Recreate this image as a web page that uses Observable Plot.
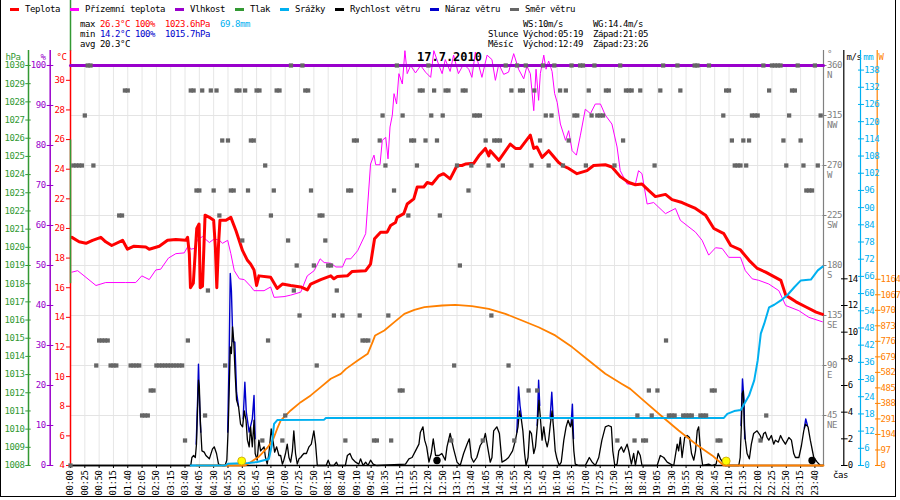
<!DOCTYPE html>
<html><head><meta charset="utf-8">
<script src="https://cdn.jsdelivr.net/npm/d3@7"></script>
<script src="https://cdn.jsdelivr.net/npm/@observablehq/plot@0.6"></script>
<style>
body{margin:0;background:#fff}
#chart{position:relative;width:900px;height:500px;overflow:hidden;background:#fff;font-family:"DejaVu Sans Mono",monospace;font-size:9px;letter-spacing:-0.42px;color:#000}
#chart svg{position:absolute;left:0;top:0}
.t{position:absolute;white-space:pre;line-height:10px}
.dash{position:absolute;height:3px;width:9px}
</style></head><body><div id="chart"></div>
<script>
// ---------- data ----------
const timeLabels = ["00:00","00:25","00:50","01:15","01:40","02:05","02:50","03:15","03:40","04:05","04:30","04:55","05:20","05:45","06:10","07:00","07:25","07:50","08:15","08:40","09:10","09:45","10:35","11:15","11:55","12:20","12:50","13:15","13:40","14:05","14:30","14:55","15:20","15:45","16:10","16:35","17:00","17:25","17:50","18:15","18:40","19:05","19:30","19:55","20:20","20:45","21:10","21:35","22:00","22:25","22:50","23:15","23:40"];

// [sample index, °C]
const temperature = [[0.5,19.4],[3,19.1],[5.4,19.0],[7.7,19.2],[10.6,19.4],[12.3,19.1],[14.4,18.85],[18.2,19.2],[19.9,18.6],[22.2,18.8],[26.3,18.75],[27.5,18.6],[31,18.8],[33.9,19.2],[36.8,19.25],[40.3,19.2],[40.9,19.4],[41.5,18.3],[41.9,16.0],[42.9,16.3],[43.6,18.5],[44.1,20.0],[44.9,20.3],[45.3,16.0],[46.1,16.1],[47.0,20.9],[48.5,20.75],[50.0,20.55],[50.6,18.7],[51.1,16.0],[51.7,18.9],[52.2,20.55],[54.3,20.55],[56.0,20.75],[57.8,19.85],[60.1,18.5],[61.8,17.85],[62.9,17.6],[64.1,17.2],[65.0,16.15],[65.8,16.8],[69.9,16.7],[72.2,15.95],[74.0,16.25],[76.9,16.15],[80.4,16.05],[82.7,15.85],[83.9,16.25],[87.4,16.55],[90.9,16.8],[92.0,16.6],[93.2,16.75],[96.7,16.8],[98.4,17.1],[103.1,17.15],[104.8,17.6],[106.2,19.3],[108.3,19.75],[110.6,19.75],[111.8,20.2],[113.5,20.4],[114.1,20.75],[116.4,21.0],[117.6,21.65],[119.9,22.0],[121.1,22.8],[123.4,22.8],[124.6,23.1],[126.3,23.0],[128.6,23.55],[130.3,23.7],[132.6,23.35],[135.0,24.25],[136.7,24.25],[137.9,24.35],[140.8,24.4],[142.6,24.9],[144.9,25.4],[146.1,24.9],[146.6,25.25],[149.6,24.6],[153.6,25.7],[155.4,25.4],[157.1,25.4],[160.6,26.3],[161.8,25.4],[162.9,25.5],[164.7,24.8],[167.0,25.25],[170.5,24.45],[172.3,24.2],[174.0,24.05],[176.9,23.7],[180.4,23.9],[182.7,24.25],[186.8,24.3],[189.1,24.15],[192.0,23.5],[195.0,23.1],[197.3,22.95],[199.6,23.0],[202.0,22.55],[204.3,22.15],[207.8,22.3],[210.1,21.95],[213.6,21.75],[215.4,21.6],[218.3,21.35],[221.8,20.9],[224.7,20.0],[228.2,19.65],[230.6,18.85],[234.0,18.55],[237.0,17.85],[239.9,17.3],[242.8,17.05],[245.2,16.8],[248.1,16.5],[249.8,15.5],[253.4,15.05],[256.9,14.7],[260.4,14.35],[262.7,14.2]];

// [sample index, °C]
const feelsLike = [[0.5,17.05],[2.5,17.15],[5.4,16.7],[8.9,16.15],[12.3,16.35],[19.3,16.35],[22.8,16.35],[24.9,16.8],[27.5,16.55],[29.8,17.2],[31.5,17.25],[34.2,18.0],[36.8,18.3],[39.7,18.35],[41.2,18.85],[42.0,18.6],[43.2,18.65],[44.4,19.25],[46.1,19.45],[48.5,19.05],[50.2,19.3],[52.0,19.2],[53.1,19.0],[54.9,19.2],[56.0,18.3],[57.2,17.15],[59.0,16.6],[60.7,16.55],[62.9,16.1],[64.1,15.8],[67.6,15.8],[69.9,16.05],[71.1,15.35],[74.6,15.4],[76.9,15.5],[80.4,15.7],[82.7,16.8],[85.1,17.15],[87.2,17.95],[88.6,17.7],[90.9,17.65],[92.7,17.4],[95.0,17.4],[96.2,17.95],[97.9,17.95],[100.3,18.5],[103.1,19.65],[104.8,24.35],[106.0,24.95],[106.6,24.3],[108.1,24.3],[108.9,25.95],[110.1,26.15],[110.9,24.7],[111.6,26.85],[112.4,27.65],[113.0,29.1],[113.9,28.4],[114.7,30.45],[115.9,29.75],[116.8,32.0],[117.6,30.45],[118.8,31.0],[120.5,30.5],[122.3,31.0],[124.0,30.55],[125.8,30.2],[126.9,32.0],[128.7,31.0],[129.8,30.45],[130.9,31.4],[132.6,30.6],[133.8,31.7],[135.5,30.45],[137.3,31.1],[139.1,30.75],[140.2,30.2],[141.4,31.9],[143.7,30.2],[145.5,31.7],[147.2,31.4],[148.4,30.0],[149.6,31.1],[151.3,30.4],[153.0,30.55],[154.8,31.8],[156.5,30.75],[158.3,30.1],[159.4,30.95],[160.6,30.45],[161.8,27.95],[162.6,30.75],[163.5,28.65],[164.1,30.45],[165.3,31.7],[166.1,30.75],[167.0,31.3],[168.2,30.6],[169.1,29.1],[170.0,28.5],[171.1,27.05],[172.9,25.95],[174.0,26.6],[175.2,25.25],[176.7,24.95],[178.1,26.3],[179.8,28.05],[181.6,27.75],[183.3,28.4],[185.1,28.4],[186.8,27.65],[189.1,27.05],[190.9,25.5],[192.0,23.9],[194.4,23.0],[197.3,23.0],[198.4,23.9],[199.6,23.7],[201.4,21.65],[203.7,21.75],[207.8,21.0],[211.3,21.35],[213.0,20.55],[218.3,19.75],[220.6,19.2],[222.9,18.2],[225.3,18.7],[227.6,18.65],[229.9,18.05],[234.0,18.05],[235.7,17.15],[238.1,16.6],[240.4,16.5],[243.9,16.25],[247.4,15.8],[249.8,14.8],[254.4,14.45],[257.9,14.0],[262.6,13.7]];

// [sample index, %]
const humidity = [[0,100],[263,100]];

// [sample index, m/s]
const windSpeed = [[0,0],[42,0],[42.4,0.6],[43,0.75],[43.6,0.6],[44,1.6],[44.4,4.4],[44.7,6.4],[45.0,5.9],[45.4,3.1],[45.9,1.1],[46.7,1.0],[47.3,0.75],[48.5,0.5],[49.6,1.25],[50.2,1.4],[51,0.9],[51.7,0.1],[53,0],[54,0],[54.6,0.4],[55.1,2.9],[55.4,5.4],[55.8,8.9],[56.2,8.4],[56.6,10.4],[57.0,9.4],[57.5,6.9],[58.0,4.9],[58.7,4.4],[59.4,3.1],[60.1,2.9],[60.7,4.1],[61.3,3.4],[61.8,1.9],[62.4,1.4],[62.9,2.9],[63.5,1.4],[64.1,3.4],[64.5,0.9],[65.2,0.4],[65.8,1.9],[66.4,1.1],[67.6,1.4],[68.1,0.6],[68.7,0.1],[69.3,0.9],[70.1,2.75],[70.7,1.9],[71.3,1.0],[72.0,1.4],[72.8,0.75],[73.4,0.75],[74,0.1],[74.5,0.4],[75.1,0.9],[75.7,1.6],[76.3,0.6],[76.9,0.25],[77.5,1.1],[78.0,2.6],[78.6,0.9],[79.2,0.1],[79.8,0.5],[80.4,0.6],[80.9,0.75],[81.5,0.9],[82.4,0.9],[83.3,1.4],[84.1,1.6],[85.0,2.6],[85.6,1.6],[86.2,0],[89.3,0],[90.0,0.4],[90.7,0],[92.0,0],[92.9,0.25],[93.4,0],[96,0],[96.7,0.75],[97.6,0.9],[98.4,0.5],[99.6,0.25],[100.7,0.1],[101.3,0.5],[102.2,0],[103.1,0.25],[103.9,0],[104.8,0.4],[105.7,0.1],[106.9,0],[117,0.1],[118.2,0.5],[119.3,0.6],[120.5,1.1],[121.7,1.6],[122.2,2.5],[123.1,2.9],[123.7,1.9],[124.4,1.4],[125.2,0.25],[126.0,0.9],[126.7,2.0],[127.5,0.75],[128.7,0.75],[129.7,0.9],[130.9,0.4],[131.5,1.4],[132.6,2.4],[133.8,1.25],[135.0,0.25],[136.1,0],[137.3,0.9],[138.5,1.6],[139.3,2.0],[140.0,0.6],[140.8,0.25],[141.9,0.6],[143.1,1.5],[144.3,1.9],[144.9,2.4],[145.8,1.25],[146.6,0.25],[147.2,0.6],[147.8,2.6],[148.9,2.9],[149.8,2.4],[150.7,0.25],[151.9,0.4],[153.0,0.6],[154.4,1.1],[155.4,1.9],[156.3,2.9],[156.8,4.1],[157.5,3.4],[158.0,2.6],[158.6,0.9],[159.1,0],[159.8,0.6],[160.4,2.6],[161.0,2.4],[161.8,0.9],[162.4,1.4],[163.1,3.1],[163.6,4.9],[164.1,3.6],[164.7,1.9],[165.3,2.9],[165.9,1.9],[166.5,1.4],[167.0,1.9],[167.6,3.1],[168.2,4.1],[168.8,2.6],[169.3,1.1],[169.9,0.5],[170.7,0],[171.4,0.25],[172.3,1.9],[173.1,2.9],[173.8,3.4],[174.6,2.9],[175.2,3.4],[175.8,1.1],[176.3,0.1],[177.5,0],[179.8,0],[180.4,0.25],[181.2,0.6],[182.2,0.25],[183.3,0],[184.5,0.6],[185.6,1.9],[186.8,2.9],[187.9,3.0],[188.9,2.9],[189.4,1.1],[190.1,0],[190.9,0.1],[191.5,1.1],[192.4,1.4],[193.2,1.0],[194.4,1.6],[195.0,1.1],[195.9,0.1],[196.7,0.9],[197.3,0],[198.2,1.1],[199.0,0.75],[199.6,0],[204.9,0],[206.0,0.75],[207.2,0.6],[208.4,0.25],[209.6,0.1],[210.7,0],[211.9,1.6],[212.4,1.1],[213.0,2.1],[213.6,0.6],[214.5,2.1],[215.4,2.25],[216.2,2.1],[216.9,0.9],[217.7,0.4],[218.3,1.1],[218.9,2.6],[219.4,2.9],[220.0,1.25],[220.8,0],[222.9,0.1],[224.0,0],[225.5,0.1],[226.2,0.9],[227.0,0.5],[227.8,0.25],[228.7,0],[233.4,0],[233.9,0.6],[234.3,2.9],[234.6,5.4],[235.0,5.6],[235.4,2.75],[235.7,1.9],[236.3,0.9],[237.1,0.5],[237.8,1.6],[238.6,2.4],[239.8,2.6],[240.9,2.25],[241.5,1.9],[242.1,2.4],[242.7,2.5],[243.3,2.1],[243.9,1.9],[244.8,2.25],[245.6,1.6],[246.2,1.9],[247.2,1.75],[248.0,2.25],[248.8,1.9],[249.7,1.6],[250.9,2.1],[251.8,1.9],[252.6,0.9],[253.2,0.6],[254.4,0.6],[255.3,1.5],[256.1,2.6],[256.7,3.1],[257.6,2.9],[258.4,1.9],[259.6,0.6],[260.8,0.25],[261.9,0],[263,0]];

// gust peaks that rise above the wind-speed line: [sample index, m/s]
const gustSegments = [
  [[43.9,1.6],[44.4,5.0],[44.7,7.6],[45.1,4.5],[45.5,2.5]],
  [[54.9,2.5],[55.4,8.0],[55.8,14.4],[56.2,13.1],[56.7,9.3],[57.4,9.25],[58.0,5.5],[58.7,4.4]],
  [[60.3,3.5],[60.9,6.25],[61.4,4.0],[62.4,2.5],[63.5,3.5],[64.1,5.25],[64.5,2.0]],
  [[155.9,2.5],[156.5,5.9],[157.0,4.5],[157.6,3.5]],
  [[163.0,3.0],[163.5,6.4],[163.9,4.5]],
  [[167.5,3.5],[168.1,5.5],[168.6,3.5]],
  [[174.8,3.0],[175.3,4.6],[175.7,2.0]],
  [[234.2,3.0],[234.7,6.5],[235.2,5.0],[235.5,2.0]],
  [[256.3,2.8],[256.8,3.5],[257.4,3.0]]
];

// [sample index, mm]
const precipitation = [[42,0],[54,0],[55,0.6],[62,0.9],[65.2,1.2],[69.3,2.3],[70.3,7.0],[71.1,14.5],[72.3,15.9],[88.6,16.0],[89.2,16.6],[228.2,16.6],[229.4,18.0],[231.8,19.0],[234.1,19.4],[235.3,21.5],[237.0,24.4],[238.8,29.7],[240.0,36.6],[241.1,46.0],[242.3,49.5],[244.0,55.2],[245.8,56.1],[248.1,57.6],[250.5,59.6],[252.8,62.2],[255.1,64.6],[258.6,64.9],[261.0,68.1],[262.7,69.4]];

// [sample index, W/m2]
const solar = [[44,0],[61,0],[62.9,20],[65.8,55],[68.7,110],[70.7,160],[72.2,230],[73.4,280],[76.9,344],[80.4,396],[83.9,438],[87.4,490],[90.9,542],[94.4,573],[96.2,604],[100.3,656],[103.8,698],[105.5,771],[106.4,813],[109.6,844],[113.1,896],[116.6,948],[120.1,973],[123.6,990],[129.8,1000],[134.4,1004],[140.2,996],[146.1,979],[151.9,948],[157.7,906],[163.5,864],[169.3,813],[175.2,740],[181.0,656],[186.8,573],[192.6,510],[195.5,479],[200.8,396],[206.6,306],[212.4,219],[218.3,135],[224.1,63],[228.2,0],[263,0]];

// green pressure trace at the first sample: [from hPa, to hPa]
const pressureTrace = [[1018.0,1025.9],[1030.8,1033.6]];

// wind direction rows: [degrees, sample indices]
const dirRows = [
  [0,[0]],
  [22.5,[40,67,74,96,106,107,112,133,144,155,191,197,200,201,226,227,241]],
  [45,[25,26,27,47,75,198,203,209,210,211,214,215,216,217,220,221,222,243]],
  [67.5,[28,29,115,116,160,163,202,205,224,225]],
  [90,[9,14,15,16,21,22,23,24,30,31,32,33,34,35,36,37,38,39,54,86,134,153]],
  [112.5,[10,11,12,13,41,69,102,103,104,208]],
  [135,[80,92,95,101,111,147]],
  [157.5,[48,78,93]],
  [180,[79,85,90,91,136]],
  [202.5,[60,76,89]],
  [225,[17,18,52,70,87,88,118,129]],
  [247.5,[44,45,50,56,57,62,71,84,97,98,113,139,257,258,259]],
  [270,[1,2,3,4,8,68,110,121,135,140,146,151,161,167,172,180,190,204,232,233,234,236,250,256,261]],
  [292.5,[53,55,63,64,99,100,108,119,120,124,128,145,148,149,150,164,174,193,231,235,237,249,255]],
  [315,[5,109,116,126,130,141,142,143,166,168,176,177,182,184,185,186,228,238,239,240,251,262]],
  [337.5,[19,20,42,43,46,49,51,58,59,61,65,66,72,73,82,83,122,123,127,131,132,137,138,154,157,158,162,171,173,181,187,188,194,195,196,199,206,213,229,230,244,252,253]],
  [360,[6,7,77,81,114,125,152,156,159,165,169,175,178,179,183,192,207,212,218,219,223,242,245,246,247,248,254,260]]
];

// sunrise/sunset and moonrise/moonset markers: [sample index, kind]
const sunMoon = [[59.8,"sun"],[229,"sun"],[128,"moon"],[259,"moon"]];

const hPaTicks = d3.range(1008,1031,1);
const pctTicks = d3.range(0,101,10);
const tempTicks = d3.range(4,31,2);
const dirTicks = [45,90,135,180,225,270,315,360];
const compass = ["NE","E","SE","S","SW","W","NW","N"];
const msTicks = d3.range(0,15,2);
const mmTicks = d3.range(0,139,6);
const wTicks = d3.range(0,1165,97);

const legendNames = ["Teplota","Přízemní teplota","Vlhkost","Tlak","Srážky","Rychlost větru","Náraz větru","Směr větru"];
const C = {temp:"#ff0000", feel:"#ff00ff", hum:"#9900cc", press:"#339933", rain:"#00b0f0", wind:"#000000", gust:"#0000cc", dir:"#666666", sun:"#ff8000", axisGray:"#808080"};
const legendColors = [C.temp,C.feel,C.hum,C.press,C.rain,C.wind,C.gust,C.dir];

// ---------- layout ----------
const chart = document.getElementById("chart");
const FONT = "DejaVu Sans Mono";
const XMAX = 263;
const plain = d => `${d}`;
const tickIdx = timeLabels.map((_, k) => k * 5);
const labelAt = new Map(tickIdx.map((d, k) => [d, timeLabels[k]]));
const pts = (arr) => arr.map(([i, v]) => ({i, v}));

function layer(yDomain, marks, {xAxis = false, yAxis = false} = {}) {
  const svg = Plot.plot({
    width: 900, height: 500,
    marginLeft: 70, marginRight: 77, marginTop: 65, marginBottom: 35,
    x: {domain: [0, XMAX], ...(xAxis ? {} : {axis: null})},
    y: {domain: yDomain, ...(yAxis ? {} : {axis: null})},
    style: {background: "none", overflow: "visible", fontFamily: FONT, fontSize: "9px", letterSpacing: "-0.42px", color: "#000"},
    marks
  });
  chart.appendChild(svg);
}

const unit = (txt, dx, fill, anchor = "start") =>
  Plot.text([txt], {text: d => d, frameAnchor: "top-left", dx, dy: -12, textAnchor: anchor, fill, fontSize: 9});
const unitR = (txt, dx, fill, dy = -12) =>
  Plot.text([txt], {text: d => d, frameAnchor: "top-right", dx, dy, textAnchor: "start", fill, fontSize: 9});

// 1. base: grid, time axis, direction axis
layer([0, 360], [
  Plot.ruleX(tickIdx, {stroke: "#e6e6e6", strokeWidth: 1}),
  Plot.ruleY([45, 90, 135, 180, 225, 270, 315], {stroke: "#e4e4e4", strokeWidth: 1.2}),
  Plot.axisX({ticks: tickIdx, tickFormat: d => labelAt.get(d), tickRotate: -90, tickSize: 3, tickPadding: 2, label: null, fontSize: 9}),
  Plot.ruleY([0], {stroke: "#000", strokeWidth: 1.5}),
  Plot.ruleX([XMAX], {stroke: C.axisGray, strokeWidth: 1.2, insetTop: -15}),
  Plot.axisY({anchor: "right", ticks: dirTicks, tickSize: 4, dx: -1.5, tickFormat: () => "", stroke: C.axisGray, label: null}),
  Plot.text(dirTicks, {y: d => d, text: (d, k) => `${d}\n${compass[k]}`, frameAnchor: "right", dx: 3.5, dy: -4.5,
    textAnchor: "start", lineAnchor: "top", lineHeight: 1.1, fill: C.axisGray, fontSize: 9}),
  unitR("°", 3.5, C.axisGray, -15)
], {xAxis: true, yAxis: true});

// 2. temperature + feels-like, °C axis
layer([4, 31], [
  Plot.line(pts(feelsLike), {x: "i", y: "v", stroke: C.feel, strokeWidth: 1}),
  Plot.line(pts(temperature), {x: "i", y: "v", stroke: C.temp, strokeWidth: 3}),
  Plot.ruleX([0], {stroke: C.temp, strokeWidth: 1.5, insetTop: -15}),
  Plot.axisY({anchor: "left", ticks: tempTicks, tickFormat: plain, tickSize: 4, tickPadding: 2, stroke: C.temp, fill: C.temp, label: null, fontSize: 9}),
  unit("°C", -4, C.temp, "end")
], {yAxis: true});

// 3. pressure axis and trace
layer([1008, 1030], [
  Plot.ruleX([0], {dx: -42, stroke: C.press, strokeWidth: 1.5, insetTop: -15}),
  Plot.axisY({anchor: "left", ticks: hPaTicks, tickFormat: plain, dx: -39.3, tickSize: 5.4, tickPadding: 1.2, stroke: C.press, fill: C.press, label: null, fontSize: 9}),
  Plot.ruleX(pressureTrace, {x: () => 0, y1: d => d[0], y2: d => d[1], stroke: C.press, strokeWidth: 1.5}),
  unit("hPa", -65, C.press)
], {yAxis: true});

// 4. humidity
layer([0, 100], [
  Plot.line(pts(humidity), {x: "i", y: "v", stroke: C.hum, strokeWidth: 3}),
  Plot.ruleX([0], {dx: -20.3, stroke: C.hum, strokeWidth: 1.5, insetTop: -15}),
  Plot.axisY({anchor: "left", ticks: pctTicks, tickFormat: plain, dx: -16.7, tickSize: 6.6, tickPadding: 1.4, stroke: C.hum, fill: C.hum, label: null, fontSize: 9}),
  unit("%", -25, C.hum, "end")
], {yAxis: true});

// 5. wind speed and gusts
const gustPts = gustSegments.flatMap((seg, s) => seg.map(([i, v]) => ({i, v, s})));
layer([0, 30], [
  Plot.line(gustPts, {x: "i", y: "v", z: "s", stroke: C.gust, strokeWidth: 1.4}),
  Plot.line(pts(windSpeed), {x: "i", y: "v", stroke: C.wind, strokeWidth: 1.3}),
  Plot.ruleX([XMAX], {dx: 20.3, stroke: "#000", strokeWidth: 1.2, insetTop: -15}),
  Plot.axisY({anchor: "right", ticks: msTicks, tickFormat: plain, dx: 17, tickSize: 6.6, tickPadding: 0.6, stroke: "#000", fill: "#000", label: null, fontSize: 9}),
  unitR("m/s", 23, "#000")
], {yAxis: true});

// 6. solar radiation
layer([0, 2500], [
  Plot.line(pts(solar), {x: "i", y: "v", stroke: C.sun, strokeWidth: 1.8}),
  Plot.ruleX([XMAX], {dx: 53.7, stroke: C.sun, strokeWidth: 1.2, insetTop: -15}),
  Plot.axisY({anchor: "right", ticks: wTicks, tickFormat: plain, dx: 51, tickSize: 5.5, tickPadding: 0.6, stroke: C.sun, fill: C.sun, label: null, fontSize: 9}),
  unitR("W", 55, C.sun)
], {yAxis: true});

// 7. precipitation
layer([0, 139.6], [
  Plot.line(pts(precipitation), {x: "i", y: "v", stroke: C.rain, strokeWidth: 2}),
  Plot.ruleX([XMAX], {dx: 37, stroke: C.rain, strokeWidth: 1.2, insetTop: -15}),
  Plot.axisY({anchor: "right", ticks: mmTicks, tickFormat: plain, dx: 34, tickSize: 6, tickPadding: 0.7, stroke: C.rain, fill: C.rain, label: null, fontSize: 9}),
  unitR("mm", 39.7, C.rain)
], {yAxis: true});

// 8. wind direction squares
const dirPts = dirRows.flatMap(([deg, idx]) => idx.map(i => ({i, v: deg})));
layer([0, 360], [
  Plot.dot(dirPts, {x: "i", y: "v", symbol: "square", r: 2.4, fill: C.dir, stroke: "none"})
]);

// 9. sun / moon markers
layer([0, 1], [
  Plot.dot(sunMoon.filter(d => d[1] === "sun"), {x: d => d[0], frameAnchor: "bottom", dy: -4.5, r: 4, fill: "#ffff00", stroke: "#c8a000", strokeWidth: 0.8}),
  Plot.dot(sunMoon.filter(d => d[1] === "moon"), {x: d => d[0], frameAnchor: "bottom", dy: -5, r: 3.7, fill: "#000", stroke: "none"})
]);

// ---------- header text ----------
function addText(html, left, top, extra = "") {
  const d = document.createElement("div");
  d.className = "t";
  d.style.cssText = `left:${left}px;top:${top}px;${extra}`;
  d.innerHTML = html;
  chart.appendChild(d);
  return d;
}
// legend
let lx = 10;
legendNames.forEach((name, k) => {
  const dash = document.createElement("div");
  dash.className = "dash";
  dash.style.cssText = `left:${lx}px;top:8px;background:${legendColors[k]}`;
  chart.appendChild(dash);
  addText(name, lx + 15, 4);
  lx += 15 + name.length * 5 + 10;
});
const red = s => `<span style="color:#ff0000">${s}</span>`;
const blue = s => `<span style="color:#0000cc">${s}</span>`;
const cyan = s => `<span style="color:${C.rain}">${s}</span>`;
addText(`max ${red("26.3°C")} ${red("100%")}  ${red("1023.6hPa")}  ${cyan("69.8mm")}`, 80, 19);
addText(`min ${blue("14.2°C")} ${blue("100%")}  ${blue("1015.7hPa")}`, 80, 29);
addText(`avg 20.3°C`, 80, 39);
addText(`       WS:10m/s      WG:14.4m/s`, 488, 19);
addText(`Slunce Východ:05:19  Západ:21:05`, 488, 29);
addText(`Měsíc  Východ:12:49  Západ:23:26`, 488, 39);
addText(`17.7.2010`, 417, 51, "font-size:12px;font-weight:bold;letter-spacing:0;line-height:12px");
addText(`čas`, 833, 470);
// frame
const frame = document.createElement("div");
frame.style.cssText = "position:absolute;left:0;top:-2px;width:896px;height:499px;border:1px solid #000;box-sizing:border-box;pointer-events:none";
chart.appendChild(frame);
</script></body></html>
